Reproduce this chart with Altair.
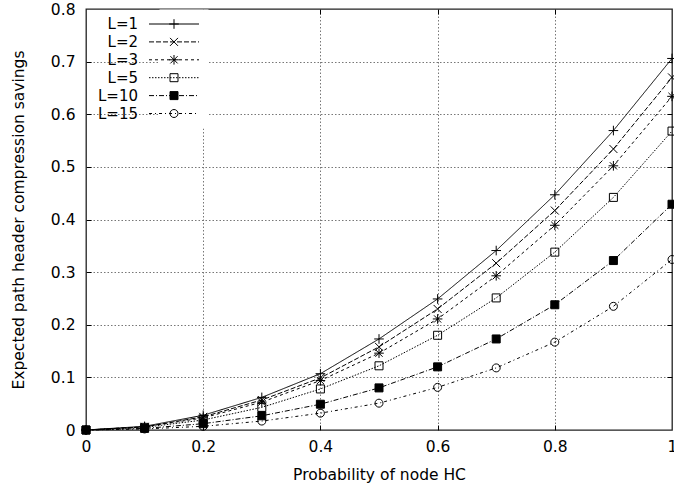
import altair as alt
import pandas as pd

# ---- data ----
x_vals = [0.0, 0.1, 0.2, 0.3, 0.4, 0.5, 0.6, 0.7, 0.8, 0.9, 1.0]
series_names = ["L=1", "L=2", "L=3", "L=5", "L=10", "L=15"]
l1 = [0, 0.007, 0.028, 0.062, 0.107, 0.173, 0.249, 0.341, 0.447, 0.569, 0.706]
l2 = [0, 0.006, 0.025, 0.057, 0.099, 0.158, 0.230, 0.317, 0.417, 0.534, 0.670]
l3 = [0, 0.006, 0.023, 0.053, 0.094, 0.146, 0.211, 0.293, 0.389, 0.502, 0.634]
l5 = [0, 0.005, 0.019, 0.043, 0.078, 0.122, 0.180, 0.251, 0.338, 0.442, 0.568]
l10 = [0, 0.003, 0.012, 0.027, 0.049, 0.080, 0.120, 0.173, 0.238, 0.322, 0.429]
l15 = [0, 0.002, 0.007, 0.017, 0.032, 0.051, 0.081, 0.118, 0.167, 0.235, 0.324]
x_ticks = [0, 0.2, 0.4, 0.6, 0.8, 1.0]
y_ticks = [0, 0.1, 0.2, 0.3, 0.4, 0.5, 0.6, 0.7, 0.8]
x_inner = [0.2, 0.4, 0.6, 0.8]
y_inner = [0.1, 0.2, 0.3, 0.4, 0.5, 0.6, 0.7]

# marker-legend keys (labels hidden) kept distinct so the two legends don't merge
marker_keys = ["m" + n for n in series_names]

rows = []
for name, mkey, vals in zip(series_names, marker_keys, [l1, l2, l3, l5, l10, l15]):
    for xv, yv in zip(x_vals, vals):
        rows.append({"p": xv, "s": yv, "series": name, "series_m": mkey})
df = pd.DataFrame(rows)

# ---- styles ----
FONT = "DejaVu Sans"
FS = 15.5
dash_range = [[1, 0], [5, 2], [3, 3], [1.5, 1.5], [5, 2, 1, 2], [3, 3, 1, 3]]
shape_range = [
    "M-1.2,0H1.2M0,-1.2V1.2",
    "M-1,-1L1,1M-1,1L1,-1",
    "M-1.2,0H1.2M0,-1.2V1.2M-0.9,-0.9L0.9,0.9M-0.9,0.9L0.9,-0.9",
    "M-1,-1H1V1H-1Z",
    "M-1,-1H1V1H-1Z",
    "M1,0A1,1,0,1,1,-1,0A1,1,0,1,1,1,0Z",
]
fill_range = ["transparent", "transparent", "transparent", "transparent", "black", "transparent"]
stroke_range = ["black"] * 6

xscale = alt.Scale(domain=[0, 1], nice=False, zero=False)
yscale = alt.Scale(domain=[0, 0.8], nice=False)

# main axes with labels and titles
ax_x_main = alt.Axis(orient="bottom", values=x_ticks, format="~g", grid=False, ticks=False,
                     domain=False, labelFont=FONT, labelFontSize=FS, labelColor="black",
                     labelPadding=9, title="Probability of node HC", titleFont=FONT,
                     titleFontSize=FS, titleFontWeight="normal", titleColor="black",
                     titlePadding=13, labelFlush=False)
ax_y_main = alt.Axis(orient="left", values=y_ticks, format="~g", grid=False, ticks=False,
                     domain=False, labelFont=FONT, labelFontSize=FS, labelColor="black",
                     labelPadding=11, title="Expected path header compression savings",
                     titleFont=FONT, titleFontSize=FS, titleFontWeight="normal",
                     titleColor="black", titlePadding=24, labelFlush=False)
# inward ticks + grid on bottom/left
ax_x_in = alt.Axis(orient="bottom", values=x_inner, labels=False, title=None, domain=False,
                   ticks=True, tickSize=5, tickColor="black", offset=-5, grid=True,
                   gridDash=[1.5, 2], gridColor="#777777", gridWidth=1)
ax_y_in = alt.Axis(orient="left", values=y_inner, labels=False, title=None, domain=False,
                   ticks=True, tickSize=5, tickColor="black", offset=-5, grid=True,
                   gridDash=[1.5, 2], gridColor="#777777", gridWidth=1)
# inward ticks on top/right
ax_x_top = alt.Axis(orient="top", values=x_inner, labels=False, title=None, domain=False,
                    ticks=True, tickSize=5, tickColor="black", offset=-5, grid=False)
ax_y_right = alt.Axis(orient="right", values=y_inner, labels=False, title=None, domain=False,
                      ticks=True, tickSize=5, tickColor="black", offset=-5, grid=False)

legend_lines = alt.Legend(title=None, orient="none", legendX=73.5, legendY=0.5,
                          symbolType="M-12.5,0H12.5", symbolSize=16, symbolStrokeColor="black",
                          symbolStrokeWidth=1, labelAlign="right", labelOffset={"expr": "-43.5"},
                          labelFont=FONT, labelFontSize=15, labelColor="black",
                          rowPadding=1.9, padding=7, fillColor="white",
                          zindex=1)
legend_marks = alt.Legend(title=None, orient="none", legendX=80.5, legendY=7.5,
                          symbolSize=64, symbolStrokeColor="black", symbolStrokeWidth=1,
                          labelAlign="left", labelOffset=40, labelOpacity=0,
                          labelFont=FONT, labelFontSize=15,
                          rowPadding=1.9, padding=0, zindex=2)

lines = alt.Chart(df).mark_line(color="black", strokeWidth=1).encode(
    x=alt.X("p:Q", scale=xscale, axis=ax_x_main),
    y=alt.Y("s:Q", scale=yscale, axis=ax_y_main),
    strokeDash=alt.StrokeDash("series:N", sort=series_names,
                              scale=alt.Scale(domain=series_names, range=dash_range),
                              legend=legend_lines),
)

points = alt.Chart(df).mark_point(strokeWidth=1, opacity=1, size=64,
                                  filled=False).encode(
    x=alt.X("p:Q", scale=xscale, axis=ax_x_in),
    y=alt.Y("s:Q", scale=yscale, axis=ax_y_in),
    shape=alt.Shape("series_m:N", sort=marker_keys,
                    scale=alt.Scale(domain=marker_keys, range=shape_range),
                    legend=legend_marks),
    fill=alt.Fill("series_m:N", sort=marker_keys,
                  scale=alt.Scale(domain=marker_keys, range=fill_range),
                  legend=legend_marks),
    stroke=alt.Stroke("series_m:N", sort=marker_keys,
                      scale=alt.Scale(domain=marker_keys, range=stroke_range),
                      legend=legend_marks),
)

frame_ticks = alt.Chart(df).mark_point(opacity=0).encode(
    x=alt.X("p:Q", scale=xscale, axis=ax_x_top),
    y=alt.Y("s:Q", scale=yscale, axis=ax_y_right),
)

chart = alt.layer(lines, points, frame_ticks).resolve_axis(
    x="independent", y="independent"
).properties(
    width=586, height=421,
    autosize=alt.AutoSizeParams(type="none"),
    padding={"left": 86, "top": 9, "right": 2, "bottom": 61},
    background="white",
).configure_view(stroke="#222222", strokeWidth=1.3)

chart.save("out.html", embed_options={"renderer": "svg", "actions": False})
